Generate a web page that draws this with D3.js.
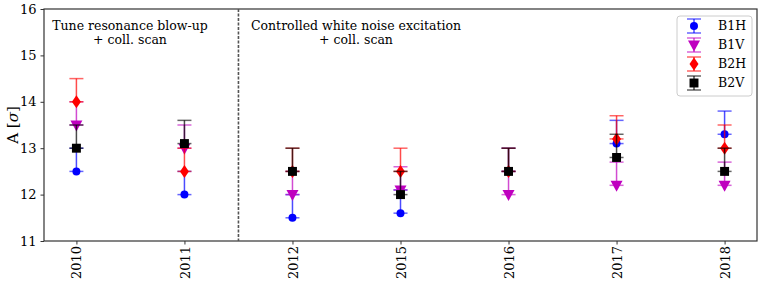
<!DOCTYPE html>
<html lang="en">
<head>
<meta charset="UTF-8">
<script src="https://d3js.org/d3.v7.min.js"></script>
<style>
body { margin: 0; background: #fff; }
text { font-family: "DejaVu Serif", serif; fill: #000; }
</style>
</head>
<body>
<div id="chart"></div>
<script>
// categories (years) and series values, upper error is 0.5 everywhere
const years = ["2010", "2011", "2012", "2015", "2016", "2017", "2018"];
const b1h = [12.5, 12.0, 11.5, 11.6, 12.5, 13.1, 13.3];
const b1v = [13.5, 13.0, 12.0, 12.1, 12.0, 12.2, 12.2];
const b2h = [14.0, 12.5, 12.5, 12.5, 12.5, 13.2, 13.0];
const b2v = [13.0, 13.1, 12.5, 12.0, 12.5, 12.8, 12.5];
const upErr = [0.5, 0.5, 0.5, 0.5, 0.5, 0.5, 0.5];
const yTicks = [11, 12, 13, 14, 15, 16];

const series = [
  { name: "B1H", vals: b1h, color: "#0000ff", shape: "circle" },
  { name: "B1V", vals: b1v, color: "#bf00bf", shape: "triangle" },
  { name: "B2H", vals: b2h, color: "#ff0000", shape: "diamond" },
  { name: "B2V", vals: b2v, color: "#000000", shape: "square" }
];

const width = 763, height = 284;
const margin = { top: 9, right: 6, bottom: 43, left: 44 };
const iw = width - margin.left - margin.right;
const ih = height - margin.top - margin.bottom;

const svg = d3.select("#chart").append("svg")
  .attr("width", width).attr("height", height);
const g = svg.append("g").attr("transform", `translate(${margin.left},${margin.top})`);

const x = d3.scaleLinear().domain([-0.3, years.length - 0.7]).range([0, iw]);
const y = d3.scaleLinear().domain([11, 16]).range([ih, 0]);

// marker symbols
function symbolPath(shape) {
  if (shape === "circle") return d3.symbol(d3.symbolCircle, 50)();
  if (shape === "square") return d3.symbol(d3.symbolSquare, 80)();
  if (shape === "diamond") return "M0,-6.5L4.5,0L0,6.5L-4.5,0Z";
  return "M-6,-4.5L6,-4.5L0,6.5Z"; // triangle down
}

// axes
const yAxis = g.append("g").call(d3.axisLeft(y).tickValues(yTicks).tickFormat(d3.format("d")).tickSize(3.5).tickPadding(4));
const xAxis = g.append("g").attr("transform", `translate(0,${ih})`)
  .call(d3.axisBottom(x).tickValues(d3.range(years.length)).tickFormat(i => years[i]).tickSize(3.5).tickPadding(4));
yAxis.selectAll("text").style("font-size", "13px").attr("fill", "#000");
xAxis.selectAll("text").style("font-size", "13px").attr("fill", "#000")
  .attr("transform", "rotate(-90)").attr("text-anchor", "end")
  .attr("x", -5).attr("y", 0).attr("dy", "0.35em");
g.selectAll(".domain").remove();
g.selectAll(".tick line").attr("stroke", "#333");

// frame
g.append("rect").attr("width", iw).attr("height", ih)
  .attr("fill", "none").attr("stroke", "#333").attr("stroke-width", 1.2);

// separator between the two methods
g.append("line")
  .attr("x1", x(1.5)).attr("x2", x(1.5)).attr("y1", 0).attr("y2", ih)
  .attr("stroke", "#555").attr("stroke-width", 1.6).attr("stroke-dasharray", "3,1.5");

// annotations
const ann = [
  { x: 130, lines: ["Tune resonance blow-up", "+ coll. scan"] },
  { x: 356, lines: ["Controlled white noise excitation", "+ coll. scan"] }
];
ann.forEach(a => {
  a.lines.forEach((t, i) => {
    svg.append("text").attr("x", a.x).attr("y", 30 + i * 14)
      .attr("text-anchor", "middle").style("font-size", "12.5px").text(t);
  });
});

// y label
svg.append("text")
  .attr("transform", `translate(18,${margin.top + ih / 2}) rotate(-90)`)
  .attr("text-anchor", "middle").style("font-size", "15px")
  .html("A [<tspan font-style='italic'>σ</tspan>]");

// error bars and markers
const cap = 7;
series.forEach(s => {
  const sg = g.append("g");
  s.vals.forEach((v, i) => {
    const cx = x(i), y0 = y(v), y1 = y(v + upErr[i]);
    sg.append("line").attr("x1", cx).attr("x2", cx).attr("y1", y0).attr("y2", y1)
      .attr("stroke", s.color).attr("stroke-width", 1.5).attr("opacity", 0.7);
    [y0, y1].forEach(yy => {
      sg.append("line").attr("x1", cx - cap).attr("x2", cx + cap).attr("y1", yy).attr("y2", yy)
        .attr("stroke", s.color).attr("stroke-width", 1.5).attr("opacity", 0.6);
    });
    sg.append("path").attr("d", symbolPath(s.shape))
      .attr("transform", `translate(${cx},${y0})`).attr("fill", s.color);
  });
});

// legend
const lg = svg.append("g").attr("transform", "translate(677,16)");
lg.append("rect").attr("width", 75).attr("height", 80).attr("rx", 3)
  .attr("fill", "#fff").attr("stroke", "#ccc").attr("stroke-width", 1);
series.forEach((s, i) => {
  const cy = 10 + i * 19, cx = 17;
  lg.append("line").attr("x1", cx).attr("x2", cx).attr("y1", cy - 7).attr("y2", cy + 7)
    .attr("stroke", s.color).attr("stroke-width", 1.5).attr("opacity", 0.7);
  [cy - 7, cy + 7].forEach(yy => {
    lg.append("line").attr("x1", cx - 7).attr("x2", cx + 7).attr("y1", yy).attr("y2", yy)
      .attr("stroke", s.color).attr("stroke-width", 1.5).attr("opacity", 0.6);
  });
  lg.append("path").attr("d", symbolPath(s.shape))
    .attr("transform", `translate(${cx},${cy})`).attr("fill", s.color);
  lg.append("text").attr("x", 41).attr("y", cy).attr("dy", "0.35em")
    .style("font-size", "12.5px").text(s.name);
});
</script>
</body>
</html>
